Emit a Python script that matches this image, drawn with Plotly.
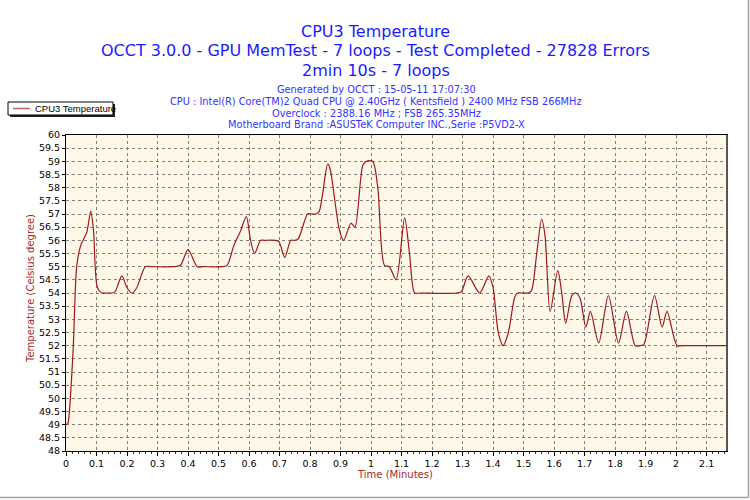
import plotly.graph_objects as go

# Data
time_min = [0, 0.006, 0.011, 0.024, 0.035, 0.048, 0.068, 0.081, 0.09, 0.103, 0.117,
            0.13, 0.15, 0.161, 0.183, 0.2, 0.216, 0.232, 0.26, 0.28, 0.35, 0.375,
            0.40, 0.43, 0.45, 0.51, 0.528, 0.55, 0.572, 0.591, 0.605, 0.618,
            0.638, 0.65, 0.685, 0.698, 0.717, 0.737, 0.749, 0.761, 0.792, 0.805,
            0.82, 0.83, 0.858, 0.866, 0.896, 0.91, 0.934, 0.947, 0.973, 0.985,
            1.005, 1.022, 1.044, 1.06, 1.082, 1.11, 1.126, 1.143, 1.16, 1.28,
            1.296, 1.318, 1.356, 1.386, 1.40, 1.417, 1.433, 1.45, 1.471, 1.48,
            1.495, 1.515, 1.526, 1.543, 1.559, 1.57, 1.587, 1.612, 1.625, 1.638,
            1.658, 1.671, 1.685, 1.704, 1.719, 1.746, 1.778, 1.811, 1.837, 1.866,
            1.88, 1.894, 1.929, 1.954, 1.97, 2.003, 2.02, 2.1, 2.167]
cpu3_temp = [49, 49.05, 49.5, 52, 55, 55.8, 56.3, 57.1, 56.4, 54.2, 54,
             54, 54, 54.05, 54.65, 54.2, 54, 54.2, 55, 55, 55, 55.05,
             55.65, 55, 55, 55, 55.05, 55.8, 56.35, 56.9, 56, 55.5,
             56, 56, 56, 55.95, 55.35, 56, 56, 56.05, 57, 57,
             57, 57.1, 58.9, 58.7, 56.4, 56, 56.65, 56.5, 58.85, 59,
             59, 58.0, 55.05, 55, 54.5, 56.85, 55.5, 54, 54, 54,
             54.05, 54.65, 54, 54.65, 54.2, 52.5, 52, 52.5, 53.85, 54,
             54, 54, 54.1, 55.5, 56.8, 56.2, 53.3, 54.85, 54.0, 52.85,
             53.9, 54, 53.8, 52.7, 53.3, 52.1, 53.9, 52.1, 53.3, 52,
             52, 52.05, 53.9, 52.7, 53.3, 52, 52, 52, 52]

x_ticks = [round(i * 0.1, 1) for i in range(22)]
y_ticks = [48 + i * 0.5 for i in range(25)]

title_lines = ["CPU3 Temperature",
               "OCCT 3.0.0 - GPU MemTest - 7 loops - Test Completed - 27828 Errors",
               "2min 10s - 7 loops"]
info_lines = ["Generated by OCCT : 15-05-11 17:07:30",
              "CPU : Intel(R) Core(TM)2 Quad CPU @ 2.40GHz ( Kentsfield ) 2400 MHz FSB 266MHz",
              "Overclock : 2388.16 MHz ; FSB 265.35MHz",
              "Motherboard Brand :ASUSTeK Computer INC.,Serie :P5VD2-X"]
series_name = "CPU3 Temperature"

FONT = "DejaVu Sans"
W, H = 750, 500
L, R, T, B = 66, 23, 135, 49
PW, PH = W - L - R, H - T - B


def px(X):
    return (X - L) / PW


def py(Y):
    return (H - B - Y) / PH


fig = go.Figure()
fig.add_trace(go.Scatter(x=time_min, y=cpu3_temp, mode="lines", name=series_name,
                         line=dict(color="#9e1a1a", width=1.2, shape="spline", smoothing=0.8),
                         showlegend=False))

annotations = []
for txt, Y in zip(title_lines, [31, 50.5, 70.5]):
    annotations.append(dict(text=txt, x=px(375.5), y=py(Y), xref="paper", yref="paper",
                            xanchor="center", yanchor="middle", showarrow=False,
                            font=dict(family=FONT, size=16, color="#1a1aff")))
for txt, Y in zip(info_lines, [90, 101.5, 113, 124.5]):
    annotations.append(dict(text=txt, x=px(376), y=py(Y), xref="paper", yref="paper",
                            xanchor="center", yanchor="middle", showarrow=False,
                            font=dict(family=FONT, size=9.8, color="#3333ff")))
# legend text
annotations.append(dict(text=series_name, x=px(33), y=py(108.5), xref="paper", yref="paper",
                        xanchor="left", yanchor="middle", showarrow=False,
                        font=dict(family="Liberation Sans", size=9.5, color="black")))
# y axis title
annotations.append(dict(text="Temperature (Celsius degree)", x=px(30), y=py(289), xref="paper",
                        yref="paper", xanchor="center", yanchor="middle", showarrow=False,
                        textangle=-90, font=dict(family=FONT, size=10, color="#a52a2a")))
annotations.append(dict(text="Time (Minutes)", x=px(395), y=py(474), xref="paper",
                        yref="paper", xanchor="center", yanchor="middle", showarrow=False,
                        font=dict(family=FONT, size=10, color="#a52a2a")))

shapes = [
    # legend shadow + box
    dict(type="rect", xref="paper", yref="paper", x0=px(10), x1=px(115), y0=py(117), y1=py(104),
         fillcolor="#222", line=dict(width=0), layer="above"),
    dict(type="rect", xref="paper", yref="paper", x0=px(8), x1=px(113), y0=py(115), y1=py(102),
         fillcolor="white", line=dict(color="black", width=1), layer="above"),
    dict(type="line", xref="paper", yref="paper", x0=px(13), x1=px(30), y0=py(108.5), y1=py(108.5),
         line=dict(color="#c06060", width=1.5), layer="above"),
    # plot area shadow on right
    dict(type="line", xref="paper", yref="paper", x0=1, x1=1, y0=0, y1=1,
         line=dict(color="#555", width=2), layer="above"),
    # outer image border
    dict(type="line", xref="paper", yref="paper", x0=px(0), x1=px(748), y0=py(497.5), y1=py(497.5),
         line=dict(color="#a0a0a0", width=1.5)),
    dict(type="line", xref="paper", yref="paper", x0=px(748.5), x1=px(748.5), y0=py(497.5), y1=py(0),
         line=dict(color="#a0a0a0", width=1.5)),
]

fig.update_layout(
    width=W, height=H,
    margin=dict(l=L, r=R, t=T, b=B, pad=0),
    paper_bgcolor="white",
    plot_bgcolor="#fff8e8",
    font=dict(family=FONT, size=10, color="black"),
    annotations=annotations,
    shapes=shapes,
    showlegend=False,
    xaxis=dict(range=[0, 2.1667], tickvals=x_ticks, ticktext=[("%g" % v) for v in x_ticks],
               showgrid=True, gridcolor="#808080", griddash="3px,3px", gridwidth=1,
               showline=True, linecolor="black", linewidth=1, mirror=True,
               ticks="outside", ticklen=4, tickcolor="black",
               minor=dict(dtick=0.02, tick0=0, ticks="outside", ticklen=2, tickcolor="#333", showgrid=False),
               tickfont=dict(family=FONT, size=9.5, color="black"), zeroline=False, fixedrange=True),
    yaxis=dict(range=[48, 60], tickvals=y_ticks, ticktext=[("%g" % v) for v in y_ticks],
               showgrid=True, gridcolor="#808080", griddash="3px,3px", gridwidth=1,
               showline=True, linecolor="black", linewidth=1, mirror=True,
               ticks="outside", ticklen=3, tickcolor="black",
               tickfont=dict(family=FONT, size=9.5, color="black"), zeroline=False, fixedrange=True),
)

fig.write_html("out.html", config={"displayModeBar": False},
               post_script="document.body.style.margin='0px';document.body.style.overflow='hidden';")
